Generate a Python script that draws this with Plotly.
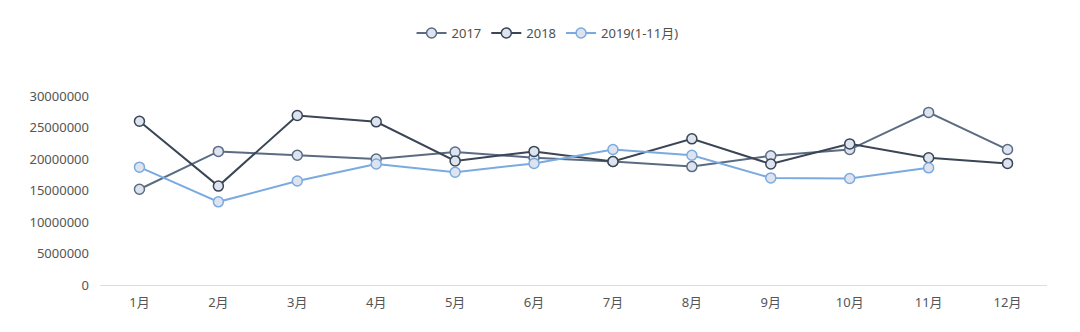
import plotly.graph_objects as go

months = ["1月", "2月", "3月", "4月", "5月", "6月", "7月", "8月", "9月", "10月", "11月", "12月"]
s2017 = [15200000, 21200000, 20600000, 20000000, 21100000, 20200000, 19600000, 18800000, 20500000, 21500000, 27400000, 21500000]
s2018 = [26000000, 15700000, 26900000, 25900000, 19700000, 21200000, 19600000, 23200000, 19200000, 22400000, 20200000, 19300000]
s2019 = [18700000, 13200000, 16500000, 19200000, 17900000, 19300000, 21500000, 20600000, 17000000, 16900000, 18600000]
names = ["2017", "2018", "2019(1-11月)"]
ytick_vals = [0, 5000000, 10000000, 15000000, 20000000, 25000000, 30000000]

colors = ["#5a6b82", "#3a4555", "#7aaae0"]
fill = "#dde4f0"

fig = go.Figure()
for name, vals, c in zip(names, [s2017, s2018, s2019], colors):
    fig.add_trace(go.Scatter(
        x=months[:len(vals)], y=vals, name=name, mode="lines+markers",
        line=dict(color=c, width=2),
        marker=dict(size=10, color=fill, line=dict(color=c, width=1.5)),
    ))

font = "Noto Sans, Noto Sans CJK SC, sans-serif"
fig.update_layout(
    width=1080, height=332,
    margin=dict(l=100, r=33, t=96, b=47),
    paper_bgcolor="white", plot_bgcolor="white",
    font=dict(family=font, size=13, color="#555555"),
    showlegend=True,
    legend=dict(orientation="h", xref="container", yref="container",
                x=0.507, y=1 - 33 / 332, xanchor="center", yanchor="middle",
                font=dict(size=13, color="#505050"), itemwidth=30,
                tracegroupgap=0),
    xaxis=dict(type="category", categoryorder="array", categoryarray=months,
               range=[-0.5, len(months) - 0.5],
               showgrid=False, showline=True, linecolor="#dddddd", linewidth=1,
               ticks="", ticklabelstandoff=5,
               tickfont=dict(size=13, color="#555555"), zeroline=False),
    yaxis=dict(range=[0, 30000000], tickvals=ytick_vals,
               ticktext=[str(v) for v in ytick_vals],
               showgrid=False, showline=False, zeroline=False, ticks="",
               ticklabelstandoff=10,
               tickfont=dict(size=13, color="#555555")),
)

fig.write_html("out.html")
